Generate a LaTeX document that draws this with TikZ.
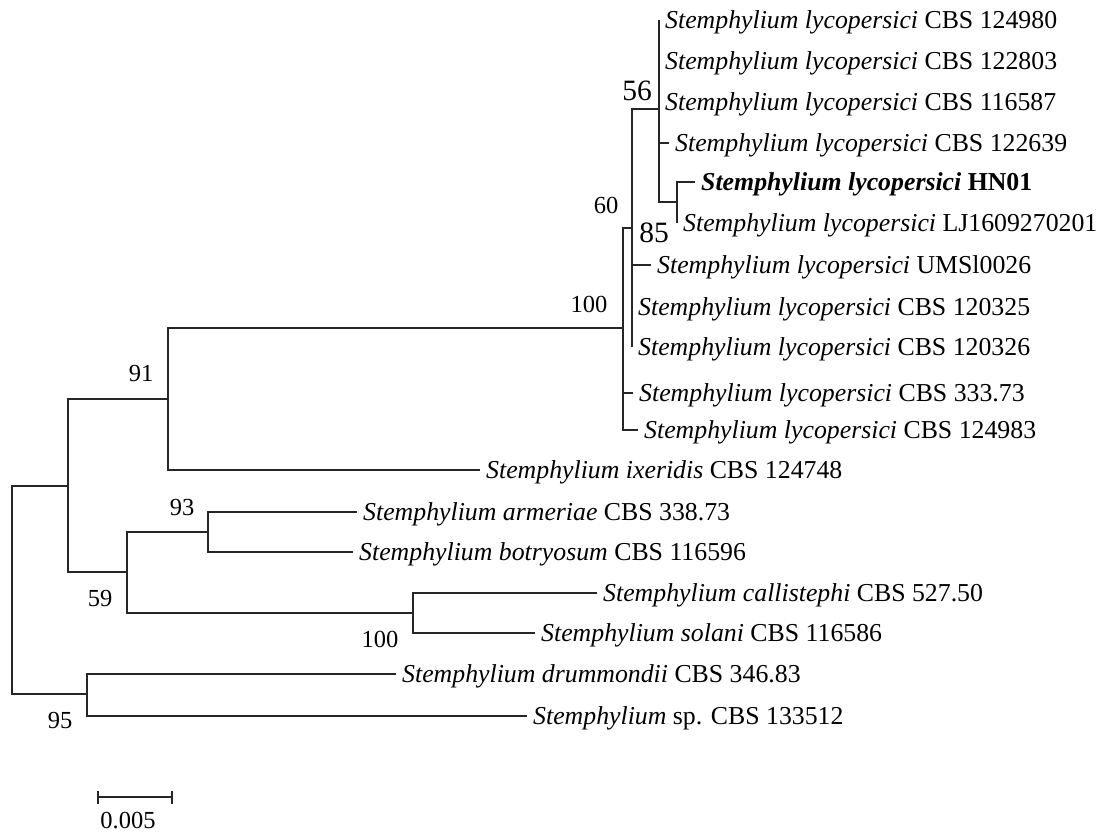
\documentclass[tikz,border=0pt]{standalone}
\usepackage{fontspec}
\setmainfont{Liberation Serif}
\begin{document}
\begin{tikzpicture}[x=1pt,y=-1pt,
  br/.style={line width=1.5pt, draw=black!85},
  taxon/.style={anchor=base west, yshift=-8.5pt, inner xsep=6pt, inner ysep=0pt, font=\fontsize{25.8}{30}\selectfont},
  boot/.style={inner sep=0pt, font=\fontsize{24.5}{28}\selectfont},
  bigboot/.style={inner sep=0pt, font=\fontsize{29.5}{34}\selectfont}]
\fill[white] (0,0) rectangle (1108,834);
\useasboundingbox (0,0) rectangle (1108,834);
% internal nodes
\coordinate (root) at (12,590);
\coordinate (nA) at (68,486);
\coordinate (n91) at (168,399);
\coordinate (n59) at (127,572);
\coordinate (n100a) at (623,328);
\coordinate (n60) at (632,228);
\coordinate (n56) at (659,109);
\coordinate (nHN) at (677,202);
\coordinate (n93) at (208,532);
\coordinate (n100b) at (413,613);
\coordinate (n95) at (87,694);
% tips
\coordinate (t1) at (659,20);
\coordinate (t2) at (659,61);
\coordinate (t3) at (659,102);
\coordinate (t4) at (669,143);
\coordinate (t5) at (695,182);
\coordinate (t6) at (677,223);
\coordinate (t7) at (651,265);
\coordinate (t8) at (632,307);
\coordinate (t9) at (632,347);
\coordinate (t10) at (633,393);
\coordinate (t11) at (638,430);
\coordinate (t12) at (480,470);
\coordinate (t13) at (357,512);
\coordinate (t14) at (353,552);
\coordinate (t15) at (597,593);
\coordinate (t16) at (535,633);
\coordinate (t17) at (396,674);
\coordinate (t18) at (527,716);
% branches
\draw[br] (root) |- (nA);
\draw[br] (root) |- (n95);
\draw[br] (nA) |- (n91);
\draw[br] (nA) |- (n59);
\draw[br] (n91) |- (n100a);
\draw[br] (n91) |- (t12);
\draw[br] (n100a) |- (n60);
\draw[br] (n100a) |- (t10);
\draw[br] (n100a) |- (t11);
\draw[br] (n60) |- (n56);
\draw[br] (n60) |- (t7);
\draw[br] (n60) |- (t8);
\draw[br] (n60) |- (t9);
\draw[br] (n56) |- (t1);
\draw[br] (n56) |- (t2);
\draw[br] (n56) |- (t3);
\draw[br] (n56) |- (t4);
\draw[br] (n56) |- (nHN);
\draw[br] (nHN) |- (t5);
\draw[br] (nHN) |- (t6);
\draw[br] (n59) |- (n93);
\draw[br] (n59) |- (n100b);
\draw[br] (n93) |- (t13);
\draw[br] (n93) |- (t14);
\draw[br] (n100b) |- (t15);
\draw[br] (n100b) |- (t16);
\draw[br] (n95) |- (t17);
\draw[br] (n95) |- (t18);
% taxa
\node[taxon] (L1) at (t1) {\textit{Stemphylium lycopersici} CBS 124980};
\node[taxon] (L2) at (t2) {\textit{Stemphylium lycopersici} CBS 122803};
\node[taxon] (L3) at (t3) {\textit{Stemphylium lycopersici} CBS 116587};
\node[taxon] (L4) at (t4) {\textit{Stemphylium lycopersici} CBS 122639};
\node[taxon] (L5) at (t5) {\textbf{\textit{Stemphylium lycopersici} HN01}};
\node[taxon] (L6) at (t6) {\textit{Stemphylium lycopersici} LJ1609270201};
\node[taxon] (L7) at (t7) {\textit{Stemphylium lycopersici} UMSl0026};
\node[taxon] (L8) at (t8) {\textit{Stemphylium lycopersici} CBS 120325};
\node[taxon] (L9) at (t9) {\textit{Stemphylium lycopersici} CBS 120326};
\node[taxon] (L10) at (t10) {\textit{Stemphylium lycopersici} CBS 333.73};
\node[taxon] (L11) at (t11) {\textit{Stemphylium lycopersici} CBS 124983};
\node[taxon] (L12) at (t12) {\textit{Stemphylium ixeridis} CBS 124748};
\node[taxon] (L13) at (t13) {\textit{Stemphylium armeriae} CBS 338.73};
\node[taxon] (L14) at (t14) {\textit{Stemphylium botryosum} CBS 116596};
\node[taxon] (L15) at (t15) {\textit{Stemphylium callistephi} CBS 527.50};
\node[taxon] (L16) at (t16) {\textit{Stemphylium solani} CBS 116586};
\node[taxon] (L17) at (t17) {\textit{Stemphylium drummondii} CBS 346.83};
\node[taxon] (L18) at (t18) {\textit{Stemphylium} sp. CBS 133512};
% bootstrap values
\node[bigboot] (b56) at (637,91) {56};
\node[boot] (b60) at (606,205) {60};
\node[bigboot] (b85) at (654,233) {85};
\node[boot] (b100a) at (589,304) {100};
\node[boot] (b91) at (141,374) {91};
\node[boot] (b93) at (182,508) {93};
\node[boot] (b59) at (100,599) {59};
\node[boot] (b100b) at (380,639) {100};
\node[boot] (b95) at (60,721) {95};
% scale bar
\coordinate (sa) at (98,797);
\coordinate (sb) at (172,797);
\draw[br] (sa) -- (sb);
\draw[br] ([yshift=6.5pt]sa) -- ([yshift=-6.5pt]sa);
\draw[br] ([yshift=6.5pt]sb) -- ([yshift=-6.5pt]sb);
\node[boot] (scl) at (128,821) {0.005};
\end{tikzpicture}
\end{document}
